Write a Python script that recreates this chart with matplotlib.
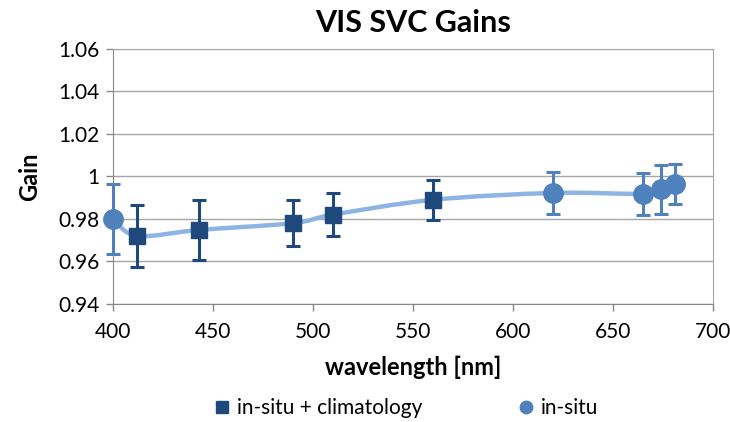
import matplotlib
matplotlib.use("Agg")
import matplotlib.pyplot as plt
import numpy as np
from matplotlib.path import Path
from matplotlib.patches import PathPatch
from matplotlib.lines import Line2D

# ---------------------------------------------------------------------------
# Data
# ---------------------------------------------------------------------------
CLIM_WL   = [412, 443, 490, 510, 560]
CLIM_GAIN = [0.972, 0.9748, 0.978, 0.982, 0.989]
CLIM_ERR  = [0.0145, 0.014, 0.011, 0.010, 0.0095]

INSITU_WL   = [400, 620, 665, 674, 681]
INSITU_GAIN = [0.980, 0.9922, 0.9918, 0.994, 0.9965]
INSITU_ERR  = [0.0165, 0.010, 0.010, 0.0115, 0.0095]

Y_TICKS = [0.94, 0.96, 0.98, 1.0, 1.02, 1.04, 1.06]
Y_TICK_LABELS = ["0.94", "0.96", "0.98", "1", "1.02", "1.04", "1.06"]
X_TICKS = [400, 450, 500, 550, 600, 650, 700]

DARK  = "#1F497D"
MID   = "#4F81BD"
LIGHT = "#8DB4E2"

plt.rcParams["font.family"] = ["Lato", "DejaVu Sans"]


def smooth_path(x, y):
    """Catmull-Rom style cubic Bezier through the given points."""
    pts = np.column_stack([x, y])
    verts = [pts[0]]
    codes = [Path.MOVETO]
    n = len(pts)
    for i in range(n - 1):
        p0 = pts[i - 1] if i > 0 else pts[i]
        p1, p2 = pts[i], pts[i + 1]
        p3 = pts[i + 2] if i + 2 < n else pts[i + 1]
        c1 = p1 + (p2 - p0) / 6.0
        c2 = p2 - (p3 - p1) / 6.0
        verts += [c1, c2, p2]
        codes += [Path.CURVE4] * 3
    return Path(verts, codes)


fig = plt.figure(figsize=(7.3, 4.22), dpi=100)
ax = fig.add_axes([0.155, 0.280, 0.822, 0.604])

# smoothed line through all measurements, sorted by wavelength
all_wl = np.array(CLIM_WL + INSITU_WL)
all_g = np.array(CLIM_GAIN + INSITU_GAIN)
order = np.argsort(all_wl)
ax.add_patch(PathPatch(smooth_path(all_wl[order], all_g[order]),
                       facecolor="none", edgecolor=LIGHT, lw=3.2, zorder=2))

ax.errorbar(CLIM_WL, CLIM_GAIN, yerr=CLIM_ERR, fmt="s", color=DARK,
            markersize=12, elinewidth=2.2, capsize=5, capthick=2.2,
            zorder=4)
eb = ax.errorbar(INSITU_WL, INSITU_GAIN, yerr=INSITU_ERR, fmt="o", color=MID,
                 markersize=14, elinewidth=2.2, capsize=5, capthick=2.2,
                 zorder=3)
eb[0].set_clip_on(False)
for art in list(eb[1]) + list(eb[2]):
    art.set_clip_on(False)

ax.set_xlim(400, 700)
ax.set_ylim(0.94, 1.06)
ax.set_xticks(X_TICKS)
ax.set_yticks(Y_TICKS)
ax.set_yticklabels(Y_TICK_LABELS)
ax.tick_params(labelsize=15, length=5, color="#888888", width=1, pad=5)
ax.tick_params(axis="x", pad=8)
ax.yaxis.grid(True, color="#A6A6A6", lw=1)
ax.set_axisbelow(True)
for side in ["left", "bottom"]:
    ax.spines[side].set_color("#888888")
for side in ["top", "right"]:
    ax.spines[side].set_color("#A6A6A6")

ax.set_title("VIS SVC Gains", fontsize=22, fontweight="bold", pad=12)
ax.set_xlabel("wavelength [nm]", fontsize=17, fontweight="bold", labelpad=10)
ax.set_ylabel("Gain", fontsize=17, fontweight="bold", labelpad=12)

legend_handles = [
    Line2D([], [], ls="none", marker="s", color=DARK, markersize=9),
    Line2D([], [], ls="none", marker="o", color=MID, markersize=9),
]
fig.legend(legend_handles, ["in-situ + climatology", "in-situ"],
           loc="center", bbox_to_anchor=(0.555, 0.033),
           ncol=2, frameon=False, fontsize=15, handletextpad=0.2,
           columnspacing=4.5, handlelength=1.0)

fig.savefig("out.png", dpi=100)
